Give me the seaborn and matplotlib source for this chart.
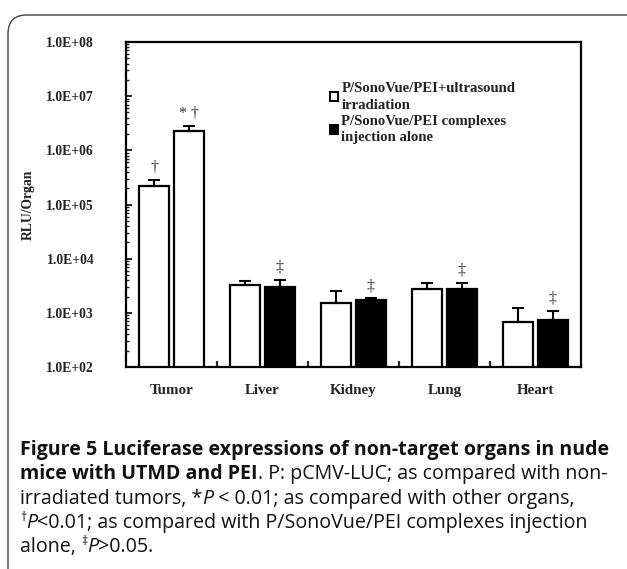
import numpy as np
import pandas as pd
import matplotlib
matplotlib.use("Agg")
import matplotlib.pyplot as plt
import seaborn as sns
from matplotlib.patches import FancyBboxPatch, Patch
from matplotlib.ticker import LogLocator, FixedLocator, NullFormatter, FixedFormatter

# ---------------- data ----------------
categories = ["Tumor", "Liver", "Kidney", "Lung", "Heart"]
series_names = ["P/SonoVue/PEI+ultrasound\nirradiation",
                "P/SonoVue/PEI complexes\ninjection alone"]
irradiation_vals = [2.2e5, 3.24e3, 1.51e3, 2.81e3, 6.7e2]
irradiation_err = [0.65e5, 0.7e3, 1.04e3, 0.76e3, 5.6e2]
alone_vals = [2.3e6, 3.0e3, 1.69e3, 2.74e3, 7.5e2]
alone_err = [0.55e6, 1.07e3, 0.17e3, 0.88e3, 3.5e2]
irradiation_marks = ["\u2020", "", "", "", ""]
alone_marks = ["* \u2020", "\u2021", "\u2021", "\u2021", "\u2021"]
ytick_vals = [1e2, 1e3, 1e4, 1e5, 1e6, 1e7, 1e8]
ytick_labels = ["1.0E+02", "1.0E+03", "1.0E+04", "1.0E+05", "1.0E+06", "1.0E+07", "1.0E+08"]

df = pd.DataFrame({
    "Organ": categories * 2,
    "Group": [series_names[0]] * len(categories) + [series_names[1]] * len(categories),
    "RLU": irradiation_vals + alone_vals,
})

# ---------------- figure ----------------
sns.set_style("ticks")
plt.rcParams["font.family"] = ["Liberation Serif", "DejaVu Serif"]
W, H = 627, 569
fig = plt.figure(figsize=(W / 100, H / 100), dpi=100)
fig.patch.set_facecolor("white")

# rounded frame (partially outside image)
frame = FancyBboxPatch((8 / W, 1 - 590 / H), 640 / W, (590 - 15) / H,
                       boxstyle="round,pad=0,rounding_size=0.03",
                       transform=fig.transFigure, facecolor="none",
                       edgecolor="#444444", linewidth=1.0, clip_on=False,
                       mutation_aspect=W / H)
fig.patches.append(frame)

ax = fig.add_axes([126 / W, 1 - 367 / H, (581 - 126) / W, (367 - 42) / H])
sns.barplot(data=df, x="Organ", y="RLU", hue="Group", order=categories,
            hue_order=series_names, palette=["white", "black"],
            edgecolor="black", linewidth=1.6, width=0.76, gap=0.12,
            ax=ax, legend=False, errorbar=None)
ax.set_yscale("log")
ax.set_ylim(1e2, 1e8)
ax.set_xlim(-0.5, len(categories) - 0.5)

# Tumor bar of second series drawn white in the reference
ax.containers[1][0].set_facecolor("white")

# error bars and significance marks
for cont, errs, marks in zip(ax.containers,
                             [irradiation_err, alone_err],
                             [irradiation_marks, alone_marks]):
    for bar, e, m in zip(cont, errs, marks):
        xc = bar.get_x() + bar.get_width() / 2
        top = bar.get_height()
        ax.errorbar([xc], [top], yerr=[[0], [e]], fmt="none", ecolor="black",
                    elinewidth=1.5, capsize=4, capthick=1.5, zorder=3)
        if m:
            ax.annotate(m, xy=(xc, top + e), xytext=(0, 3),
                        textcoords="offset points", ha="center", va="bottom",
                        fontsize=11.5, color="#333333")

# axes styling
for s in ax.spines.values():
    s.set_linewidth(1.6)
    s.set_color("black")
ax.yaxis.set_major_locator(FixedLocator(ytick_vals))
ax.yaxis.set_major_formatter(FixedFormatter(ytick_labels))
ax.yaxis.set_minor_locator(LogLocator(base=10, subs=np.arange(2, 10)))
ax.yaxis.set_minor_formatter(NullFormatter())
ax.tick_params(axis="y", which="major", direction="in", length=4, width=1.4,
               labelsize=9.8, pad=23)
ax.tick_params(axis="y", which="minor", direction="in", length=2.5, width=1.0)
for lab in ax.get_yticklabels():
    lab.set_fontweight("bold")
    lab.set_color("#222222")
ax.xaxis.set_minor_locator(FixedLocator(np.arange(0.5, len(categories) - 0.5, 1)))
ax.tick_params(axis="x", which="major", length=0, labelsize=10.8, pad=12)
ax.tick_params(axis="x", which="minor", direction="in", length=4, width=1.6)
for lab in ax.get_xticklabels():
    lab.set_fontweight("bold")
    lab.set_color("#222222")
ax.set_xlabel("")
ax.set_ylabel("RLU/Organ", fontsize=9.8, fontweight="bold", color="#222222",
              labelpad=8)

# legend
handles = [Patch(facecolor="white", edgecolor="black", linewidth=1.4),
           Patch(facecolor="black", edgecolor="black", linewidth=1.4)]
leg = ax.legend(handles, series_names, loc="upper left",
                bbox_to_anchor=(0.42, 0.917), frameon=False,
                handlelength=0.55, handleheight=0.55, handletextpad=0.2,
                labelspacing=0.2, prop={"weight": "bold", "size": 10.6})
for t in leg.get_texts():
    t.set_color("#222222")
    t.set_linespacing(1.35)

# ---------------- caption ----------------
cap_font = ["Open Sans", "DejaVu Sans"]
cap_size = 14.1
renderer = fig.canvas.get_renderer()


def seg_width(txt, **kw):
    t1 = fig.text(0, 0, txt + "|", **kw)
    t2 = fig.text(0, 0, "|", **kw)
    w = t1.get_window_extent(renderer).width - t2.get_window_extent(renderer).width
    t1.remove()
    t2.remove()
    return w


def draw_line(y_px, segs):
    x = 20.0
    for txt, style in segs:
        kw = dict(family=cap_font, size=cap_size, color="#111111")
        dy = 0
        if style == "b":
            kw["weight"] = "bold"
        elif style == "i":
            kw["style"] = "italic"
        elif style == "sup":
            kw["size"] = cap_size * 0.62
            dy = 7
        fig.text(x / W, 1 - (y_px - dy) / H, txt, va="baseline", ha="left", **kw)
        x += seg_width(txt, **kw)


lines = [
    [("Figure 5 Luciferase expressions of non-target organs in nude", "b")],
    [("mice with UTMD and PEI", "b"), (". P: pCMV-LUC; as compared with non-", "n")],
    [("irradiated tumors, *", "n"), ("P", "i"), (" < 0.01; as compared with other organs,", "n")],
    [("\u2020", "sup"), ("P", "i"), ("<0.01; as compared with P/SonoVue/PEI complexes injection", "n")],
    [("alone, ", "n"), ("\u2021", "sup"), ("P", "i"), (">0.05.", "n")],
]
for i, segs in enumerate(lines):
    draw_line(455 + i * 24.3, segs)

fig.savefig("out.png", dpi=100, facecolor="white")
